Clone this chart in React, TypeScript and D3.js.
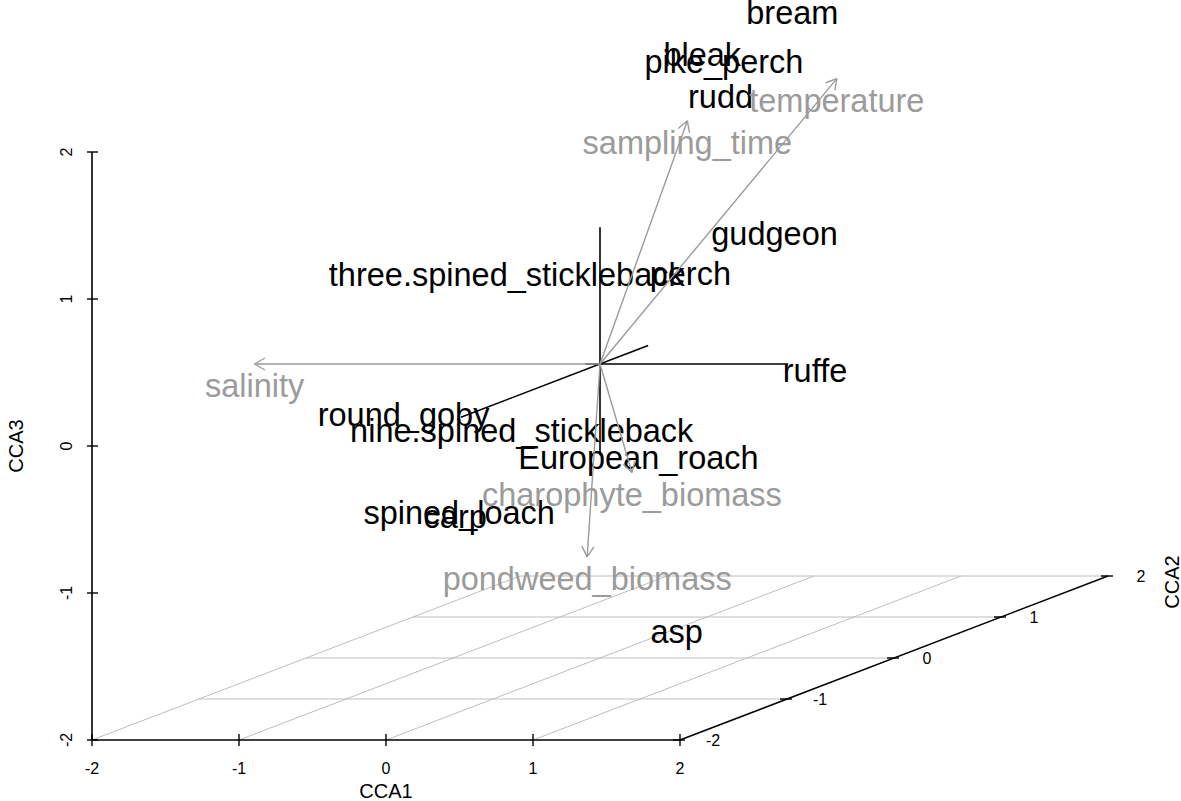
import { useEffect, useRef } from 'react';
import * as d3 from 'd3';

// species scores (CCA1, CCA2, CCA3)
const speciesNames = [
  'bream', 'bleak', 'pike_perch', 'rudd', 'gudgeon', 'perch',
  'three.spined_stickleback', 'ruffe', 'round_goby', 'nine.spined_stickleback',
  'European_roach', 'spined_loach', 'carp', 'asp',
];
const speciesCCA1 = [1.09, 0.55, 0.77, 0.82, 0.86, 0.76, -0.27, 1.39, -0.39, 0.05, 0.48, -0.23, -0.33, 0.23];
const speciesCCA2 = [0.3, 0.2, 0.1, 0.0, 0.45, -0.2, -0.5, 0.1, -1.3, -0.8, -0.3, -1.0, -0.9, 0.4];
const speciesCCA3 = [2.31, 2.05, 2.03, 1.82, 0.76, 0.67, 0.75, -0.07, 0.02, -0.23, -0.55, -0.73, -0.79, -1.93];

// environmental biplot arrows
const envNames = ['salinity', 'temperature', 'sampling_time', 'charophyte_biomass', 'pondweed_biomass'];
const envCCA1 = [-2.35, 1.32, 0.74, 0.29, -0.16];
const envCCA2 = [0.0, 0.4, -0.2, -0.1, 0.1];
const envCCA3 = [0.0, 1.83, 1.71, -0.71, -1.34];

// extent of the black axis lines drawn through the origin
const originAxisCCA1 = [-0.1, 1.28];
const originAxisCCA2 = [-1.3, 0.45];
const originAxisCCA3 = [-0.62, 0.93];

const tickValues = [-2, -1, 0, 1, 2];

export default function App() {
  const svgRef = useRef<SVGSVGElement>(null);

  useEffect(() => {
    document.body.style.margin = '0';
    const svg = d3.select(svgRef.current);
    svg.selectAll('*').remove();

    const font = 'Liberation Sans, Arial, sans-serif';
    const gridColor = '#bebebe';
    const envColor = '#9b9b9b';
    const labelSize = '32.5px';
    const tickSize = '16px';

    // scatterplot3d-like oblique projection
    const xScale = d3.scaleLinear().domain([-2, 2]).range([92, 680]);
    const zScale = d3.scaleLinear().domain([-2, 2]).range([740, 152]);
    const depthX = d3.scaleLinear().domain([-2, 2]).range([0, 428]);
    const depthY = d3.scaleLinear().domain([-2, 2]).range([0, -164]);
    const project = (x: number, y: number, z: number): [number, number] => [
      xScale(x) + depthX(y),
      zScale(z) + depthY(y),
    ];

    const line = (a: [number, number], b: [number, number], color: string, w: number) =>
      svg.append('line')
        .attr('x1', a[0]).attr('y1', a[1])
        .attr('x2', b[0]).attr('y2', b[1])
        .attr('stroke', color)
        .attr('stroke-width', w);

    // grid on the floor (z = -2)
    tickValues.forEach(v => {
      if (v !== -2) line(project(-2, v, -2), project(2, v, -2), gridColor, 1);
      if (v !== 2) line(project(v, -2, -2), project(v, 2, -2), gridColor, 1);
    });

    // axes
    line(project(-2, -2, -2), project(2, -2, -2), '#000', 1.6);
    line(project(-2, -2, -2), project(-2, -2, 2), '#000', 1.6);
    line(project(2, -2, -2), project(2, 2, -2), '#000', 1.6);

    tickValues.forEach(v => {
      // CCA1
      const [x1, y1] = project(v, -2, -2);
      line([x1, y1 - 6], [x1, y1 + 6], '#000', 1.4);
      svg.append('text')
        .attr('x', x1).attr('y', y1 + 34)
        .attr('text-anchor', 'middle')
        .style('font-family', font).style('font-size', tickSize)
        .text(v);
      // CCA3
      const [x3, y3] = project(-2, -2, v);
      line([x3 - 5, y3], [x3 + 6, y3], '#000', 1.4);
      svg.append('text')
        .attr('transform', `translate(${x3 - 20},${y3}) rotate(-90)`)
        .attr('text-anchor', 'middle')
        .style('font-family', font).style('font-size', tickSize)
        .text(v);
      // CCA2
      const [x2, y2] = project(2, v, -2);
      line([x2 - 7, y2], [x2 + 5, y2], '#000', 1.4);
      svg.append('text')
        .attr('x', x2 + 33).attr('y', y2)
        .attr('dy', '0.35em')
        .attr('text-anchor', 'middle')
        .style('font-family', font).style('font-size', tickSize)
        .text(v);
    });

    // axis titles
    svg.append('text')
      .attr('x', xScale(0)).attr('y', 798)
      .attr('text-anchor', 'middle')
      .style('font-family', font).style('font-size', '20px')
      .text('CCA1');
    svg.append('text')
      .attr('transform', `translate(23,${zScale(0)}) rotate(-90)`)
      .attr('text-anchor', 'middle')
      .style('font-family', font).style('font-size', '20px')
      .text('CCA3');
    const cca2Pos = project(2, 2, -2);
    svg.append('text')
      .attr('transform', `translate(${cca2Pos[0] + 71},${cca2Pos[1] + 6}) rotate(-90)`)
      .attr('text-anchor', 'middle')
      .style('font-family', font).style('font-size', '20px')
      .text('CCA2');

    // black axis lines through the origin
    line(project(originAxisCCA1[0], 0, 0), project(originAxisCCA1[1], 0, 0), '#000', 1.6);
    line(project(0, originAxisCCA2[0], 0), project(0, originAxisCCA2[1], 0), '#000', 1.6);
    line(project(0, 0, originAxisCCA3[0]), project(0, 0, originAxisCCA3[1]), '#000', 1.6);

    // species labels
    speciesNames.forEach((name, i) => {
      const [px, py] = project(speciesCCA1[i], speciesCCA2[i], speciesCCA3[i]);
      svg.append('text')
        .attr('x', px).attr('y', py)
        .attr('dy', '0.35em')
        .attr('text-anchor', 'middle')
        .style('font-family', font).style('font-size', labelSize)
        .attr('fill', '#000')
        .text(name);
    });

    // environmental arrows
    const origin = project(0, 0, 0);
    envNames.forEach((name, i) => {
      const tip = project(envCCA1[i], envCCA2[i], envCCA3[i]);
      line(origin, tip, envColor, 1.4);
      const ang = Math.atan2(tip[1] - origin[1], tip[0] - origin[0]);
      const len = 12;
      [-Math.PI / 6, Math.PI / 6].forEach(da => {
        line(tip, [tip[0] - len * Math.cos(ang + da), tip[1] - len * Math.sin(ang + da)], envColor, 1.4);
      });
      svg.append('text')
        .attr('x', tip[0]).attr('y', tip[1] + 22)
        .attr('dy', '0.35em')
        .attr('text-anchor', 'middle')
        .style('font-family', font).style('font-size', labelSize)
        .attr('fill', envColor)
        .text(name);
    });
  }, []);

  return (
    <div>
      <svg ref={svgRef} width={1181} height={801} style={{ display: 'block', background: '#fff' }}></svg>
    </div>
  );
}
